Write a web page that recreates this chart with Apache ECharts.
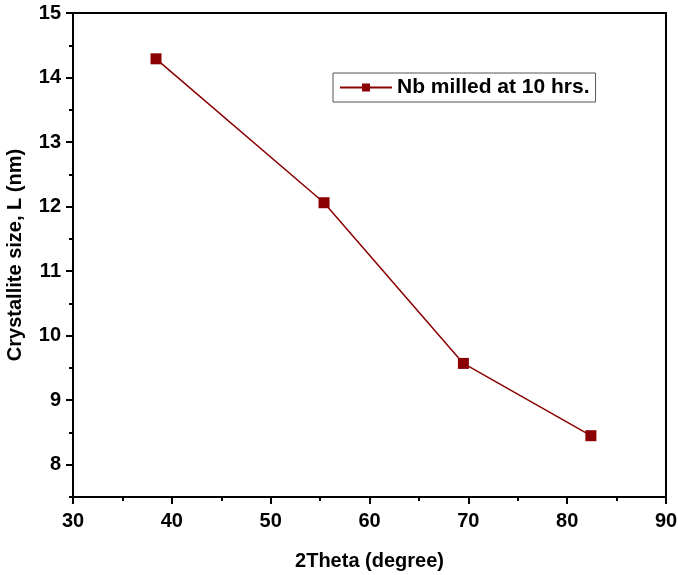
<!DOCTYPE html>
<html>
<head>
<meta charset="utf-8">
<script src="https://cdn.jsdelivr.net/npm/echarts@6/dist/echarts.min.js"></script>
<style>
  html, body { margin: 0; padding: 0; background: #fff; }
  #box { width: 678px; height: 575px; }
</style>
</head>
<body>
<div id="box"></div>
<script>
const seriesName = 'Nb milled at 10 hrs.';
const theta = [38.4, 55.4, 69.5, 82.4];
const sizeNm = [14.29, 12.06, 9.57, 8.45];
const yMajorTicks = [8, 9, 10, 11, 12, 13, 14, 15];
const yMinorTicks = [7.5, 8.5, 9.5, 10.5, 11.5, 12.5, 13.5, 14.5];

const myecharts = echarts.init(document.getElementById('box'));
const font = 'Liberation Sans, Arial, sans-serif';
const dark = '#8b0000';
const titleStyle = { fontFamily: font, fontWeight: 'bold', fontSize: 20, color: '#000' };
const labelStyle = { fontFamily: font, fontWeight: 'bold', fontSize: 20, color: '#000' };

const options = {
  animation: false,
  grid: {
    left: 73, right: 12, top: 13, bottom: 78,
    outerBoundsMode: 'none',
    show: true, borderColor: '#000', borderWidth: 2
  },
  legend: {
    left: 333, top: 73,
    padding: [4, 6, 4, 6],
    borderColor: '#555', borderWidth: 1,
    itemWidth: 52, itemHeight: 10,
    textStyle: { fontFamily: font, fontWeight: 'bold', fontSize: 21, color: '#000' },
    data: [seriesName]
  },
  xAxis: {
    type: 'value', min: 30, max: 90, interval: 10,
    name: '2Theta (degree)', nameLocation: 'middle', nameGap: 54,
    nameTextStyle: titleStyle,
    axisLine: { lineStyle: { color: '#000', width: 2 } },
    axisTick: { inside: false, length: 7, lineStyle: { width: 2 } },
    minorTick: { show: true, splitNumber: 2, length: 4, lineStyle: { color: '#000', width: 2 } },
    axisLabel: Object.assign({ margin: 14 }, labelStyle),
    splitLine: { show: false }
  },
  yAxis: [{
    type: 'value', min: 7.5, max: 15, interval: 0.5,
    name: 'Crystallite size, L (nm)', nameLocation: 'middle', nameGap: 48,
    nameTextStyle: titleStyle,
    axisLine: { lineStyle: { color: '#000', width: 2 } },
    axisTick: { inside: false, length: 7, lineStyle: { width: 2 }, customValues: yMajorTicks },
    axisLabel: Object.assign({ margin: 12, customValues: yMajorTicks }, labelStyle),
    splitLine: { show: false }
  }, {
    type: 'value', min: 7.5, max: 15, interval: 0.5,
    position: 'left', offset: 0,
    axisLine: { show: false },
    axisTick: { show: true, inside: false, length: 4, lineStyle: { color: '#000', width: 2 }, customValues: yMinorTicks },
    axisLabel: { show: false },
    splitLine: { show: false }
  }],
  series: [{
    name: seriesName,
    type: 'line',
    yAxisIndex: 0,
    data: theta.map((x, i) => [x, sizeNm[i]]),
    symbol: 'rect', symbolSize: 11,
    lineStyle: { color: dark, width: 1.5 },
    itemStyle: { color: dark }
  }]
};
myecharts.setOption(options);
window.onresize = function () { myecharts.resize(); };
</script>
</body>
</html>
